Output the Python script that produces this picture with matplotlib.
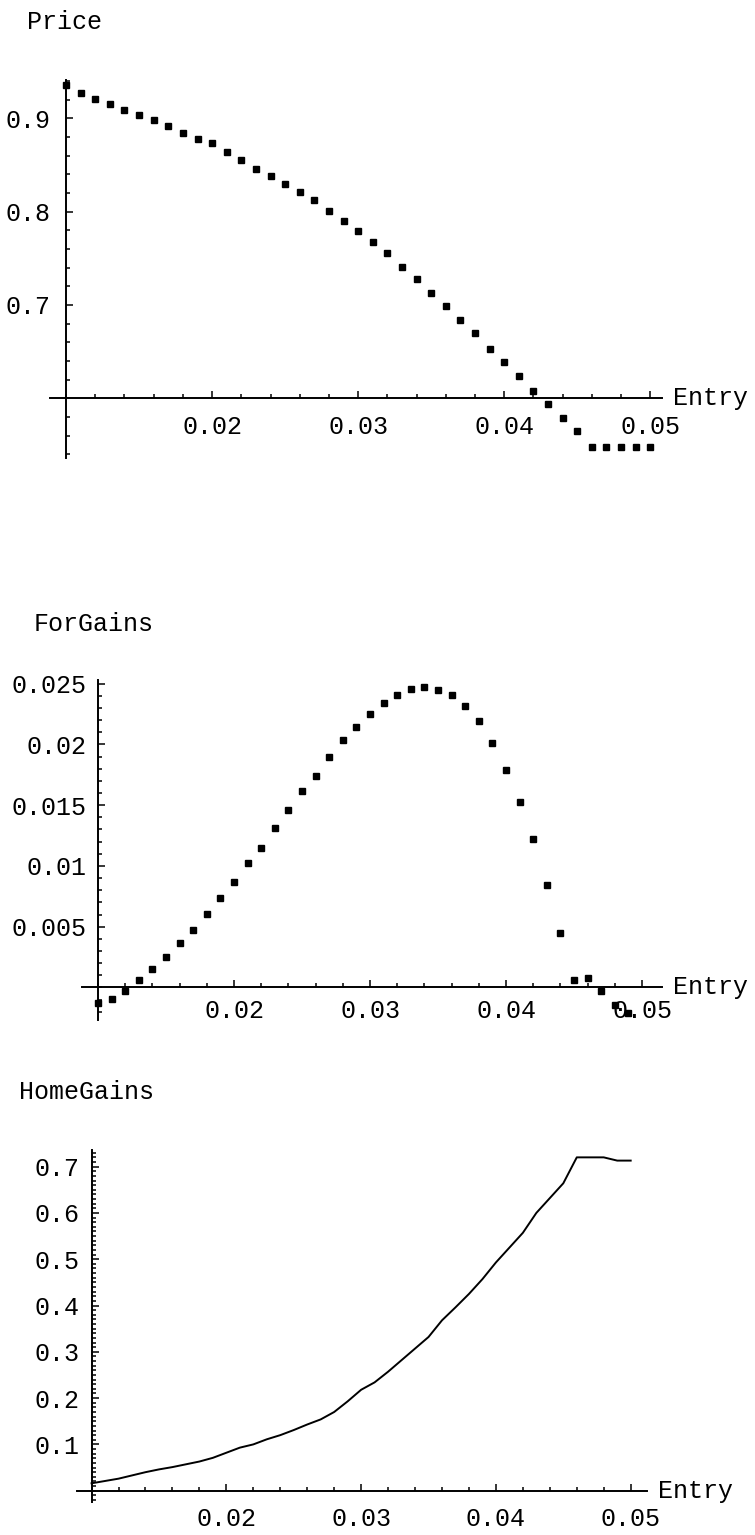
import numpy as np
import matplotlib.pyplot as plt
from matplotlib.ticker import FixedLocator, MultipleLocator

plt.rcParams['font.family'] = ['Liberation Mono', 'DejaVu Sans Mono']

W, H = 755, 1535

# Entry values (x), one every 0.001
entry = [0.010, 0.011, 0.012, 0.013, 0.014, 0.015, 0.016, 0.017, 0.018, 0.019,
         0.020, 0.021, 0.022, 0.023, 0.024, 0.025, 0.026, 0.027, 0.028, 0.029,
         0.030, 0.031, 0.032, 0.033, 0.034, 0.035, 0.036, 0.037, 0.038, 0.039,
         0.040, 0.041, 0.042, 0.043, 0.044, 0.045, 0.046, 0.047, 0.048, 0.049,
         0.050]

price = [0.936, 0.927, 0.921, 0.915, 0.909, 0.903, 0.898, 0.892, 0.884, 0.878,
         0.873, 0.864, 0.855, 0.846, 0.838, 0.830, 0.821, 0.812, 0.801, 0.790,
         0.779, 0.767, 0.756, 0.741, 0.728, 0.713, 0.699, 0.684, 0.670, 0.653,
         0.639, 0.624, 0.608, 0.594, 0.579, 0.565, 0.548, 0.548, 0.548, 0.548,
         0.548]

# last sample (0.050) falls outside the plot range
for_gains = [-0.0013, -0.00096, -0.00027, 0.00058, 0.00148, 0.00253, 0.00363,
             0.0047, 0.00602, 0.00736, 0.00868, 0.01022, 0.01151, 0.01308,
             0.01459, 0.01613, 0.01742, 0.01898, 0.02036, 0.02146, 0.02253,
             0.02338, 0.02404, 0.02456, 0.02475, 0.0245, 0.02404, 0.02316,
             0.0219, 0.02008, 0.01791, 0.01522, 0.0122, 0.00846, 0.0045,
             0.00058, 0.00074, -0.00027, -0.00146, -0.0021]

home_gains = [0.016, 0.021, 0.026, 0.033, 0.040, 0.046, 0.051, 0.057, 0.063, 0.071,
              0.082, 0.093, 0.100, 0.111, 0.120, 0.131, 0.143, 0.154, 0.170, 0.193,
              0.218, 0.234, 0.257, 0.282, 0.307, 0.332, 0.368, 0.396, 0.425, 0.457,
              0.493, 0.525, 0.557, 0.600, 0.632, 0.664, 0.720, 0.720, 0.720, 0.713,
              0.713]

x_ticks = [0.02, 0.03, 0.04, 0.05]
x_labels = ['0.02', '0.03', '0.04', '0.05']
price_ticks = [0.7, 0.8, 0.9]
price_labels = ['0.7', '0.8', '0.9']
for_ticks = [0.005, 0.01, 0.015, 0.02, 0.025]
for_labels = ['0.005', '0.01', '0.015', '0.02', '0.025']
home_ticks = [0.1, 0.2, 0.3, 0.4, 0.5, 0.6, 0.7]
home_labels = ['0.1', '0.2', '0.3', '0.4', '0.5', '0.6', '0.7']


def box(l, r, t, b):
    return [l / W, 1 - b / H, (r - l) / W, (b - t) / H]


def style(ax, x0, y0, xminor, yminor, xpad, ypad):
    for s in ['top', 'right']:
        ax.spines[s].set_visible(False)
    ax.spines['left'].set_position(('data', x0))
    ax.spines['bottom'].set_position(('data', y0))
    for s in ['left', 'bottom']:
        ax.spines[s].set_linewidth(1.4)
    ax.xaxis.set_minor_locator(MultipleLocator(xminor))
    ax.yaxis.set_minor_locator(MultipleLocator(yminor))
    ax.tick_params(which='both', direction='in', width=1.1, labelsize=18)
    ax.tick_params(which='major', length=5)
    ax.tick_params(which='minor', length=3)
    ax.tick_params(axis='x', pad=xpad)
    ax.tick_params(axis='y', pad=ypad)
    ax.patch.set_alpha(0)
    ax.annotate('Entry', xy=(1, y0), xycoords=('axes fraction', 'data'),
                xytext=(8, 0), textcoords='offset points',
                va='center', ha='left', fontsize=18)


fig = plt.figure(figsize=(W / 100, H / 100), dpi=100)

# Price
ax1 = fig.add_axes(box(50, 662, 80, 458))
ax1.plot(entry, price, 's', color='black', markersize=3.7)
ax1.set_xlim(0.0089, 0.0508)
ax1.set_ylim(0.536, 0.941)
ax1.xaxis.set_major_locator(FixedLocator(x_ticks))
ax1.set_xticklabels(x_labels)
ax1.yaxis.set_major_locator(FixedLocator(price_ticks))
ax1.set_yticklabels(price_labels)
style(ax1, 0.01, 0.6, 0.002, 0.02, 12, 11)
fig.text(27 / W, 1 - 22 / H, 'Price', fontsize=18, va='center', ha='left')

# ForGains
ax2 = fig.add_axes(box(82, 662, 680, 1020))
ax2.plot(entry[:len(for_gains)], for_gains, 's', color='black', markersize=3.7)
ax2.set_xlim(0.00882, 0.05147)
ax2.set_ylim(-0.00268, 0.0253)
ax2.xaxis.set_major_locator(FixedLocator(x_ticks))
ax2.set_xticklabels(x_labels)
ax2.yaxis.set_major_locator(FixedLocator(for_ticks))
ax2.set_yticklabels(for_labels)
style(ax2, 0.01, 0.0, 0.002, 0.001, 8, 8)
fig.text(34 / W, 1 - 624 / H, 'ForGains', fontsize=18, va='center', ha='left')

# HomeGains
ax3 = fig.add_axes(box(77, 647, 1150, 1502))
ax3.plot(entry, home_gains, '-', color='black', linewidth=1.4)
ax3.set_xlim(0.00892, 0.05121)
ax3.set_ylim(-0.0244, 0.7359)
ax3.xaxis.set_major_locator(FixedLocator(x_ticks))
ax3.set_xticklabels(x_labels)
ax3.yaxis.set_major_locator(FixedLocator(home_ticks))
ax3.set_yticklabels(home_labels)
style(ax3, 0.01, 0.0, 0.002, 0.01, 12, 9)
fig.text(19 / W, 1 - 1092 / H, 'HomeGains', fontsize=18, va='center', ha='left')

fig.savefig('out.png', dpi=100)
